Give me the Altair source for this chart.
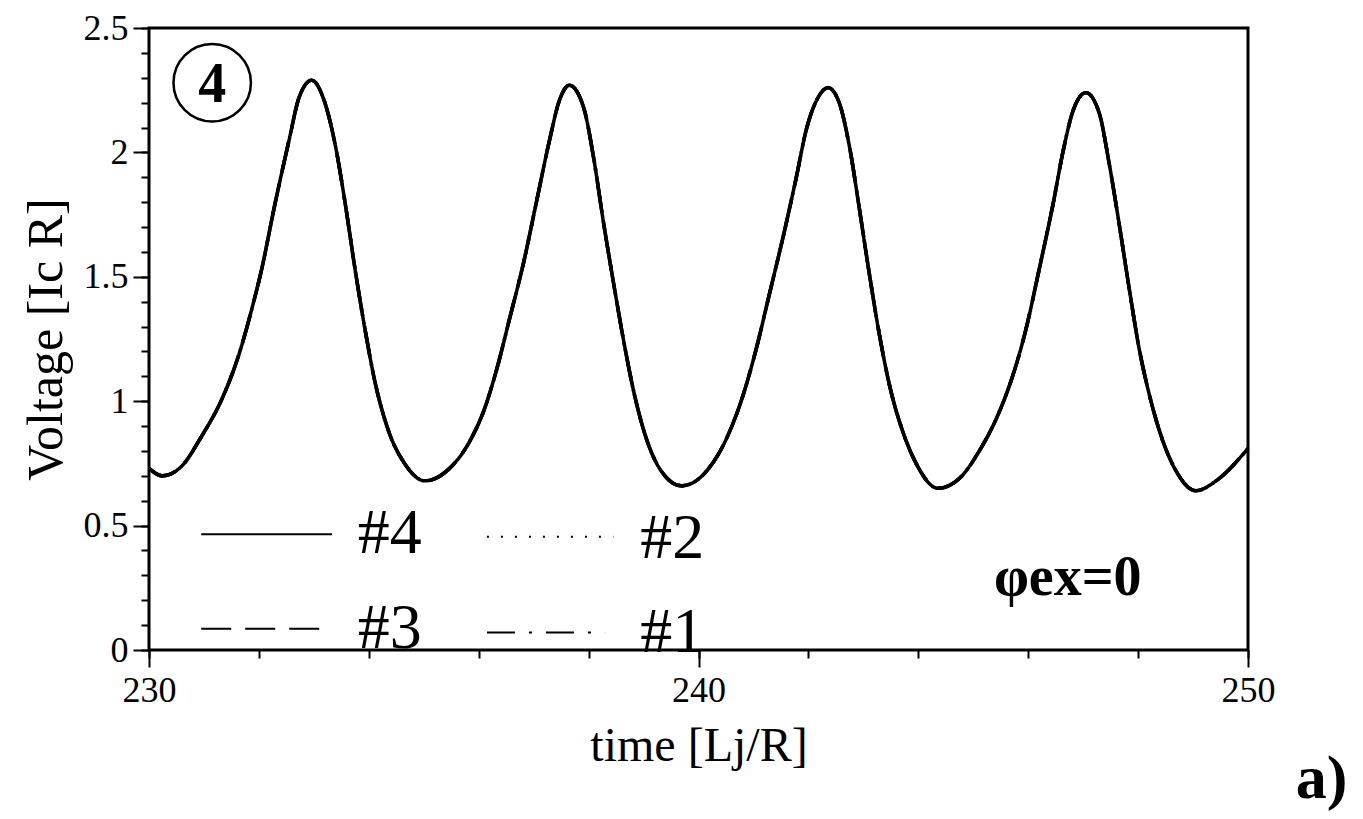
import altair as alt
import pandas as pd

# ---- data ----
TIME = [230.00, 230.24, 230.60, 230.96, 231.33, 231.64, 231.87, 232.05, 232.29, 232.55,
        232.73, 232.96, 233.20, 233.38, 233.56, 233.75, 233.93, 234.11, 234.36, 234.65,
        235.02, 235.47, 235.84, 236.09, 236.33, 236.56, 236.82, 237.05, 237.29, 237.47,
        237.65, 237.91, 238.09, 238.27, 238.45, 238.64, 238.82, 239.05, 239.29, 239.69,
        240.15, 240.51, 240.82, 241.05, 241.29, 241.55, 241.78, 241.96, 242.15, 242.36,
        242.56, 242.75, 242.93, 243.11, 243.29, 243.47, 243.73, 243.96, 244.36, 244.75,
        245.11, 245.42, 245.73, 245.96, 246.20, 246.45, 246.64, 246.82, 247.05, 247.29,
        247.47, 247.65, 247.84, 248.02, 248.20, 248.45, 248.69, 249.05, 249.42, 250.00]
VOLT = [0.73, 0.70, 0.74, 0.86, 1.01, 1.19, 1.37, 1.53, 1.79, 2.05,
        2.22, 2.29, 2.20, 2.04, 1.81, 1.53, 1.29, 1.08, 0.88, 0.75,
        0.68, 0.73, 0.84, 0.96, 1.13, 1.33, 1.56, 1.80, 2.05, 2.21,
        2.27, 2.18, 1.98, 1.72, 1.48, 1.24, 1.04, 0.85, 0.73, 0.66,
        0.72, 0.85, 1.03, 1.21, 1.43, 1.67, 1.90, 2.09, 2.21, 2.26,
        2.20, 2.02, 1.77, 1.51, 1.27, 1.07, 0.87, 0.75, 0.65, 0.69,
        0.80, 0.93, 1.11, 1.29, 1.53, 1.79, 2.01, 2.17, 2.24, 2.16,
        1.96, 1.72, 1.45, 1.21, 1.03, 0.84, 0.72, 0.64, 0.68, 0.81]
SERIES = ["#1", "#2", "#3", "#4"]          # all four traces coincide in the picture
X_MAJOR = [230, 240, 250]
X_MINOR = [230, 232, 234, 236, 238, 240, 242, 244, 246, 248, 250]
Y_MAJOR = [0, 0.5, 1, 1.5, 2, 2.5]
Y_MINOR = [round(i * 0.1, 1) for i in range(26)]

# legend (drawn inside the plot, in data units)
LEG_SERIES = ["#4", "#2", "#3", "#1"]
LEG_X1 = [230.95, 236.15, 230.95, 236.15]
LEG_X2 = [233.33, 238.45, 233.33, 238.30]
LEG_Y = [0.465, 0.455, 0.085, 0.07]
LEG_TX = [233.80, 238.94, 233.80, 238.94]
LEG_TY = [0.39, 0.37, 0.01, -0.01]

DASH = {"#4": [1, 0], "#3": [30, 14], "#2": [2, 12], "#1": [28, 14, 3, 14]}
FONT = "Liberation Serif"

rows = []
for s in SERIES:
    for t, v in zip(TIME, VOLT):
        rows.append({"t": t, "v": v, "s": s})
df = pd.DataFrame(rows)
leg = pd.DataFrame({"s": LEG_SERIES, "x1": LEG_X1, "x2": LEG_X2, "y": LEG_Y,
                    "tx": LEG_TX, "ty": LEG_TY})

xs = alt.Scale(domain=[230, 250], nice=False, zero=False)
ys = alt.Scale(domain=[0, 2.5], nice=False, zero=False)
dash_scale = alt.Scale(domain=list(DASH.keys()), range=list(DASH.values()))

x_major = alt.Axis(values=X_MAJOR, title="time [Lj/R]", orient="bottom", grid=False,
                   domain=False, tickSize=17, tickWidth=2, tickColor="black",
                   labelFont=FONT, labelFontSize=36, labelColor="black", labelPadding=6,
                   labelFlush=False, titleFont=FONT, titleFontSize=48,
                   titleFontWeight="normal", titleColor="black", titlePadding=14)
y_major = alt.Axis(values=Y_MAJOR, format="~g", title="Voltage [Ic R]", orient="left",
                   grid=False, domain=False, tickSize=16, tickWidth=2, tickColor="black",
                   labelFont=FONT, labelFontSize=36, labelColor="black", labelPadding=5,
                   labelFlush=False, titleFont=FONT, titleFontSize=50,
                   titleFontWeight="normal", titleColor="black", titlePadding=12)
x_minor = alt.Axis(values=X_MINOR, title=None, orient="bottom", grid=False, domain=False,
                   labels=False, tickSize=8, tickWidth=2, tickColor="black")
y_minor = alt.Axis(values=Y_MINOR, title=None, orient="left", grid=False, domain=False,
                   labels=False, tickSize=8, tickWidth=2, tickColor="black")

lines = alt.Chart(df).mark_line(color="black", strokeWidth=3.5, interpolate="monotone",
                                strokeCap="butt").encode(
    x=alt.X("t:Q", scale=xs, axis=x_major),
    y=alt.Y("v:Q", scale=ys, axis=y_major),
    strokeDash=alt.StrokeDash("s:N", scale=dash_scale, legend=None),
    detail="s:N",
)

minor = alt.Chart(df).mark_line(opacity=0).encode(
    x=alt.X("t:Q", scale=xs, axis=x_minor),
    y=alt.Y("v:Q", scale=ys, axis=y_minor),
    detail="s:N",
)

leg_lines = alt.Chart(leg).mark_rule(color="black", strokeWidth=2, strokeCap="butt").encode(
    x=alt.X("x1:Q", scale=xs, axis=None),
    x2="x2:Q",
    y=alt.Y("y:Q", scale=ys, axis=None),
    strokeDash=alt.StrokeDash("s:N", scale=dash_scale, legend=None),
)
leg_text = alt.Chart(leg).mark_text(font=FONT, fontSize=64, align="left",
                                    baseline="alphabetic", color="black").encode(
    x=alt.X("tx:Q", scale=xs, axis=None),
    y=alt.Y("ty:Q", scale=ys, axis=None),
    text="s:N",
)

ann = pd.DataFrame({"x": [231.15], "y": [2.28]})
circle = alt.Chart(ann).mark_point(shape="circle", size=6000, filled=False, color="black",
                                   strokeWidth=2.5, opacity=1).encode(
    x=alt.X("x:Q", scale=xs, axis=None), y=alt.Y("y:Q", scale=ys, axis=None))
four = alt.Chart(ann).mark_text(text="4", font=FONT, fontSize=56, fontWeight="bold",
                                align="center", baseline="middle", dy=2, color="black").encode(
    x=alt.X("x:Q", scale=xs, axis=None), y=alt.Y("y:Q", scale=ys, axis=None))

phi = alt.Chart(pd.DataFrame({"x": [246.72], "y": [0.22]})).mark_text(
    text="φex=0", font=FONT, fontSize=56, fontWeight="bold", align="center",
    baseline="alphabetic", color="black").encode(
    x=alt.X("x:Q", scale=xs, axis=None), y=alt.Y("y:Q", scale=ys, axis=None))

panel = alt.Chart(pd.DataFrame({"x": [250.87], "y": [-0.595]})).mark_text(
    text="a)", font=FONT, fontSize=62, fontWeight="bold", align="left",
    baseline="alphabetic", color="black").encode(
    x=alt.X("x:Q", scale=xs, axis=None), y=alt.Y("y:Q", scale=ys, axis=None))

chart = alt.layer(lines, minor, leg_lines, leg_text, circle, four, phi, panel).resolve_axis(
    x="independent", y="independent"
).properties(
    width=1099, height=622,
    autosize=alt.AutoSizeParams(type="none"),
    padding={"left": 141, "top": 20, "right": 100, "bottom": 168},
    background="white",
).configure_view(stroke="black", strokeWidth=3)

chart.save("out.html", embed_options={"renderer": "svg", "actions": False})
